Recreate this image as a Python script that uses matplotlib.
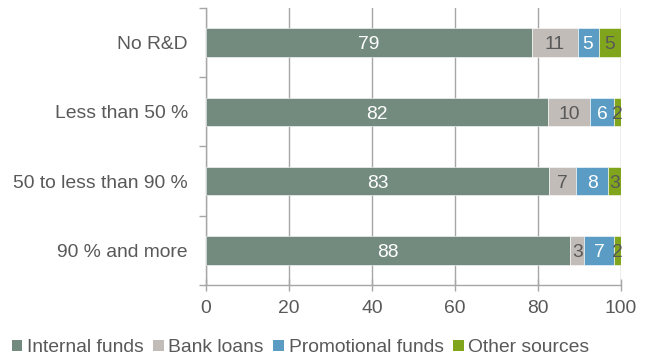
import numpy as np
import matplotlib.pyplot as plt
from matplotlib.patches import Patch

plt.rcParams['font.family'] = ['Liberation Sans', 'DejaVu Sans']

# 研发强度分组及各资金来源占比 (%)
categories = ['No R&D', 'Less than 50 %', '50 to less than 90 %', '90 % and more']
internal = [78.6, 82.4, 82.6, 87.8]
bank = [10.9, 10.1, 6.6, 3.3]
promo = [5.1, 5.8, 7.7, 7.1]
other = [5.4, 1.7, 3.1, 1.8]

series = ['Internal funds', 'Bank loans', 'Promotional funds', 'Other sources']
colors = ['#738b7f', '#c1bcb8', '#5a9cc3', '#80a51d']
text_colors = ['white', '#595959', 'white', '#595959']
grey = '#595959'
line_grey = '#a6a6a6'
fs = 13.9

fig = plt.figure(figsize=(6.49, 3.58), dpi=100)
ax = fig.add_axes([0.3174, 0.204, 0.6396, 0.774])

y = np.arange(len(categories))
left = np.zeros(len(categories))
for vals, c, tc in zip([internal, bank, promo, other], colors, text_colors):
    vals = np.array(vals)
    ax.barh(y, vals, left=left, height=0.41, color=c, edgecolor='white', linewidth=0.4, zorder=3)
    # 数字按字高居中（基线下移半个字高）
    for yi, l, v in zip(y, left, vals):
        ax.annotate(f'{v:.0f}', (l + v / 2, yi), xytext=(0, -0.358 * fs),
                    textcoords='offset points', ha='center', va='baseline',
                    color=tc, fontsize=fs, zorder=4)
    left += vals

ax.set_xlim(0, 100)
ax.set_ylim(len(categories) - 0.5, -0.5)
ax.set_xticks(np.arange(0, 101, 20))
ax.set_yticks(y)
ax.set_yticklabels(categories)
ax.set_yticks(np.arange(-0.5, len(categories)), minor=True)
ax.grid(axis='x', color=line_grey, linewidth=1.0, zorder=0)

for s in ['top', 'right']:
    ax.spines[s].set_visible(False)
for s in ['left', 'bottom']:
    ax.spines[s].set_color(line_grey)
    ax.spines[s].set_linewidth(1.0)

ax.tick_params(axis='y', which='major', length=0, pad=13, labelsize=fs, labelcolor=grey)
ax.tick_params(axis='y', which='minor', length=5, color=line_grey, width=1.0)
ax.tick_params(axis='x', direction='inout', length=8, color=line_grey, width=1.0,
               pad=7, labelsize=fs, labelcolor=grey)

# 底部图例，方形色块
handles = [Patch(facecolor=c, edgecolor='none') for c in colors]
leg = fig.legend(handles, series, loc='center left', bbox_to_anchor=(0.0, 0.028),
                 ncol=4, frameon=False, fontsize=fs, handlelength=0.55, handleheight=0.55,
                 handletextpad=0.25, columnspacing=0.48, borderaxespad=0.2)
for t in leg.get_texts():
    t.set_color(grey)

fig.savefig('out.png', dpi=100)
